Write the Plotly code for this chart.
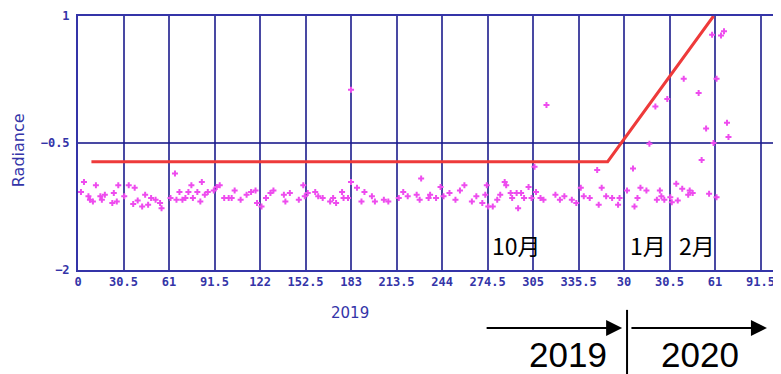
import plotly.graph_objects as go

# ---- data ----
days = [4, 2, 7, 8, 12, 10, 15, 16, 18, 23, 24, 26, 27, 31, 34, 38, 37, 40, 45, 43,
        47, 49, 52, 56, 55, 62, 65, 66, 68, 70, 72, 74, 76, 77, 80, 82, 83, 85, 87, 91,
        93, 95, 98, 101,
        105, 103, 109, 113, 116, 119, 120, 123, 126, 129, 131, 138, 139, 142, 148, 151,
        152, 154, 159, 161, 164, 169, 171, 173, 177, 178, 181, 183, 183, 187, 192, 190,
        197, 199, 205,
        208, 215, 218, 221, 227, 230, 229, 235, 236, 240, 243, 245, 249, 253, 256, 259,
        264, 267, 271, 273, 274, 275, 278, 281, 283, 286, 287, 290, 291, 294, 295, 297,
        299, 302, 304, 306, 307, 310,
        314, 312, 320, 323, 326, 331, 334, 337, 339, 343, 348, 349, 351, 354, 358, 362,
        363, 368, 372, 373, 375, 377, 381, 383, 388,
        387, 395, 406, 416, 425, 431, 433, 428, 435, 421, 436, 426, 418, 401, 405, 410,
        412, 409, 423, 402, 398, 393, 390, 391, 397, 428]
radiance = [-0.96, -1.08, -1.13, -1.17, -1.00, -1.19, -1.13, -1.17, -1.11, -1.21,
            -1.09, -1.19, -1.00, -1.13, -1.00, -1.03, -1.22, -1.18, -1.11, -1.25,
            -1.23, -1.15, -1.17, -1.27, -1.21, -1.15, -0.86, -1.17, -1.08, -1.17,
            -1.15, -1.08, -1.00, -1.15, -1.08, -1.19, -0.96, -1.11, -1.08, -1.06,
            -1.02, -1.00, -1.15, -1.15,
            -1.06, -1.15, -1.17, -1.11, -1.08, -1.06, -1.21, -1.25, -1.15, -1.09,
            -1.06, -1.11, -1.19, -1.09, -1.17, -1.00, -1.13, -1.09, -1.08, -1.13,
            -1.15, -1.19, -1.15, -1.21, -1.08, -1.15, -1.15, -0.96, 0.13, -1.03,
            -1.08, -1.19, -1.13, -1.19, -1.17,
            -1.19, -1.15, -1.08, -1.13, -1.11, -0.92, -1.17, -1.15, -1.11, -1.15,
            -1.02, -1.13, -1.09, -1.17, -1.06, -1.00, -1.19, -1.13, -1.21, -1.11,
            -1.00, -1.25, -1.25, -1.17, -1.11, -0.96, -1.00, -1.09, -1.15, -1.09,
            -1.27, -1.09, -1.15, -1.02, -1.15, -0.78, -1.08, -1.15,
            -0.05, -1.17, -1.11, -1.17, -1.13, -1.17, -1.21, -1.03, -1.13, -1.15,
            -0.82, -1.23, -1.03, -1.13, -1.15, -1.23, -1.15, -1.06, -0.80, -1.25,
            -1.15, -1.03, -1.06, -0.51, -1.17,
            -0.07, 0.02, 0.26, 0.09, 0.78, 0.77, 0.82, 0.26, -0.26, -0.33,
            -0.43, -0.50, -0.70, -0.98, -1.04, -1.06, -1.09, -1.11, -1.10, -1.18,
            -1.20, -1.17, -1.06, -1.13, -1.14, -1.14]

trend_x = [9, 355, 426]
trend_y = [-0.72, -0.72, 1.0]

tick_vals = [0, 30.5, 61, 91.5, 122, 152.5, 183, 213.5, 244, 274.5, 305, 335.5,
             366, 396.5, 427, 457.5]
tick_text = ["0", "30.5", "61", "91.5", "122", "152.5", "183", "213.5", "244",
             "274.5", "305", "335.5", "30", "30.5", "61", "91.5"]
y_vals = [-2, -0.5, 1]
y_text = ["\u22122", "\u22120.5", "1"]

month_labels = ["10月", "1月", "2月"]
month_pos = [294, 382, 415]
year_labels = ["2019", "2020"]

BLUE = "#3434a8"
GRID = "rgba(28,28,140,0.8)"

fig = go.Figure()
fig.add_trace(go.Scatter(x=days, y=radiance, mode="markers",
                         marker=dict(symbol="cross", size=5, color="#ee4cee",
                                     line=dict(width=0)),
                         showlegend=False, hoverinfo="skip"))
fig.add_trace(go.Scatter(x=trend_x, y=trend_y, mode="lines",
                         line=dict(color="#ee3a3a", width=3),
                         showlegend=False, hoverinfo="skip"))

tickfont = dict(family="DejaVu Sans Mono", size=12, color=BLUE, weight="bold")
fig.update_layout(
    width=773, height=366,
    margin=dict(l=70, r=0, t=8, b=104),
    paper_bgcolor="white", plot_bgcolor="white",
    xaxis=dict(range=[0, 471.2], tickmode="array", tickvals=tick_vals,
               ticktext=tick_text, showgrid=True, gridcolor=GRID, gridwidth=2,
               showline=True, linecolor=BLUE, linewidth=2, mirror=True,
               zeroline=False, ticks="", tickfont=tickfont),
    yaxis=dict(range=[-2, 1], tickmode="array", tickvals=y_vals, ticktext=y_text,
               showgrid=True, gridcolor=GRID, gridwidth=2,
               showline=True, linecolor=BLUE, linewidth=2, mirror=False,
               zeroline=False, ticks="", tickfont=tickfont, ticklabelstandoff=4),
)

ann = []
ann.append(dict(text="2019", x=0.387, y=-0.169, xref="paper", yref="paper",
                xanchor="center", yanchor="middle", showarrow=False,
                font=dict(family="DejaVu Sans", size=15, color=BLUE)))
ann.append(dict(text="Radiance", x=-0.0853, y=0.472, xref="paper", yref="paper",
                xanchor="center", yanchor="middle", textangle=-90, showarrow=False,
                font=dict(family="DejaVu Sans", size=16, color=BLUE)))
for t, p in zip(month_labels, month_pos):
    ann.append(dict(text=t, x=p, y=0.098, xref="x", yref="paper", showarrow=False,
                    xanchor="center", yanchor="middle",
                    font=dict(family="Noto Sans CJK JP", size=23, color="black")))
ann.append(dict(text=year_labels[0], x=0.697, y=-0.333, xref="paper", yref="paper",
                xanchor="center", yanchor="middle", showarrow=False,
                font=dict(family="Liberation Sans", size=35, color="black")))
ann.append(dict(text=year_labels[1], x=0.885, y=-0.333, xref="paper", yref="paper",
                xanchor="center", yanchor="middle", showarrow=False,
                font=dict(family="Liberation Sans", size=35, color="black")))
for hx in [0.774, 0.980]:
    ann.append(dict(text="", x=hx, y=-0.228, xref="paper", yref="paper",
                    showarrow=True, ax=-137, ay=0, arrowhead=2, arrowsize=1.6,
                    arrowwidth=2, arrowcolor="black", standoff=0))
fig.update_layout(annotations=ann)
fig.add_shape(type="line", xref="paper", yref="paper", x0=0.781, x1=0.781,
              y0=-0.157, y1=-0.41, line=dict(color="black", width=2))

fig.write_html("out.html")
